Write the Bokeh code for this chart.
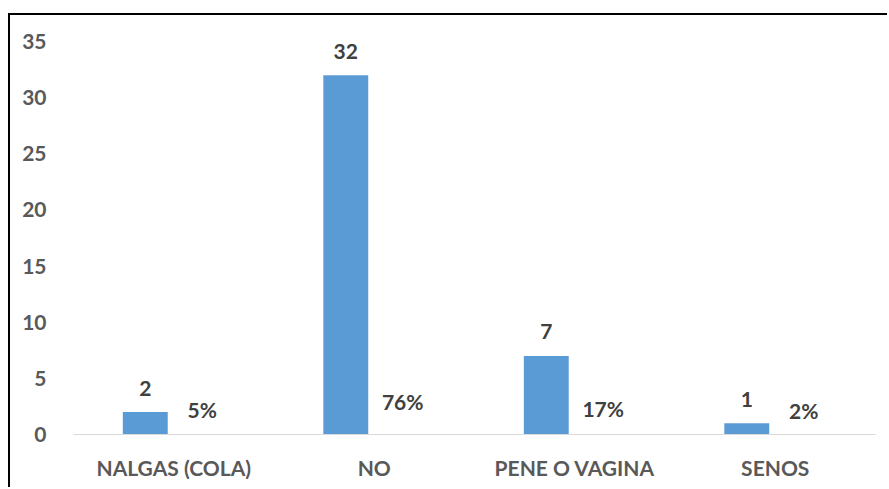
from bokeh.plotting import figure
from bokeh.models import ColumnDataSource, FactorRange, Range1d, LabelSet, SingleIntervalTicker
from bokeh.core.properties import value
from bokeh.transform import dodge
from bokeh.embed import file_html
from bokeh.resources import INLINE

categories = ["NALGAS (COLA)", "NO", "PENE O VAGINA", "SENOS"]
counts = [2, 32, 7, 1]
shares = [0.05, 0.76, 0.17, 0.02]
share_labels = ["5%", "76%", "17%", "2%"]
count_labels = [str(c) for c in counts]

src = ColumnDataSource(dict(cat=categories, count=counts, share=shares,
                            share_lbl=share_labels, count_lbl=count_labels))

FONT = "Lato"
FSIZE = "21px"
p = figure(x_range=FactorRange(factors=categories, range_padding=0),
           y_range=Range1d(0, 35),
           width=879, height=474, output_backend="svg", toolbar_location=None,
           min_border_left=63, min_border_right=14, min_border_top=26, min_border_bottom=55,
           margin=(13, 0, 0, 8))
p.styles = {"border-top": "2px solid #000000", "border-left": "2px solid #000000"}
p.outline_line_color = None
p.xgrid.grid_line_color = None
p.ygrid.grid_line_color = None

p.vbar(x=dodge("cat", -0.142, range=p.x_range), top="count", width=0.224, bottom=0,
       source=src, fill_color="#5B9BD5", line_color=None)

p.add_layout(LabelSet(x=dodge("cat", -0.142, range=p.x_range), y="count", text="count_lbl",
                      source=src, y_offset=24, text_align="center", text_baseline="middle",
                      text_font=value(FONT), text_font_style="bold", text_font_size=FSIZE,
                      text_color="#404040"))
p.add_layout(LabelSet(x=dodge("cat", 0.142, range=p.x_range), y="share", text="share_lbl",
                      source=src, y_offset=24, text_align="center", text_baseline="middle",
                      text_font=value(FONT), text_font_style="bold", text_font_size=FSIZE,
                      text_color="#404040"))

p.yaxis.ticker = SingleIntervalTicker(interval=5)
p.yaxis.axis_line_color = None
p.yaxis.major_tick_line_color = None
p.yaxis.minor_tick_line_color = None
p.yaxis.major_tick_in = 0
p.yaxis.major_tick_out = 0
p.yaxis.major_label_standoff = 23
p.xaxis.axis_line_color = "#D9D9D9"
p.xaxis.axis_line_width = 1
p.xaxis.major_tick_line_color = None
p.xaxis.major_tick_in = 0
p.xaxis.major_tick_out = 0
p.xaxis.major_label_standoff = 20
for ax in (p.xaxis, p.yaxis):
    ax.major_label_text_font = FONT
    ax.major_label_text_font_style = "bold"
    ax.major_label_text_font_size = FSIZE
    ax.major_label_text_color = "#595959"

open("out.html", "w").write(file_html(p, INLINE))
